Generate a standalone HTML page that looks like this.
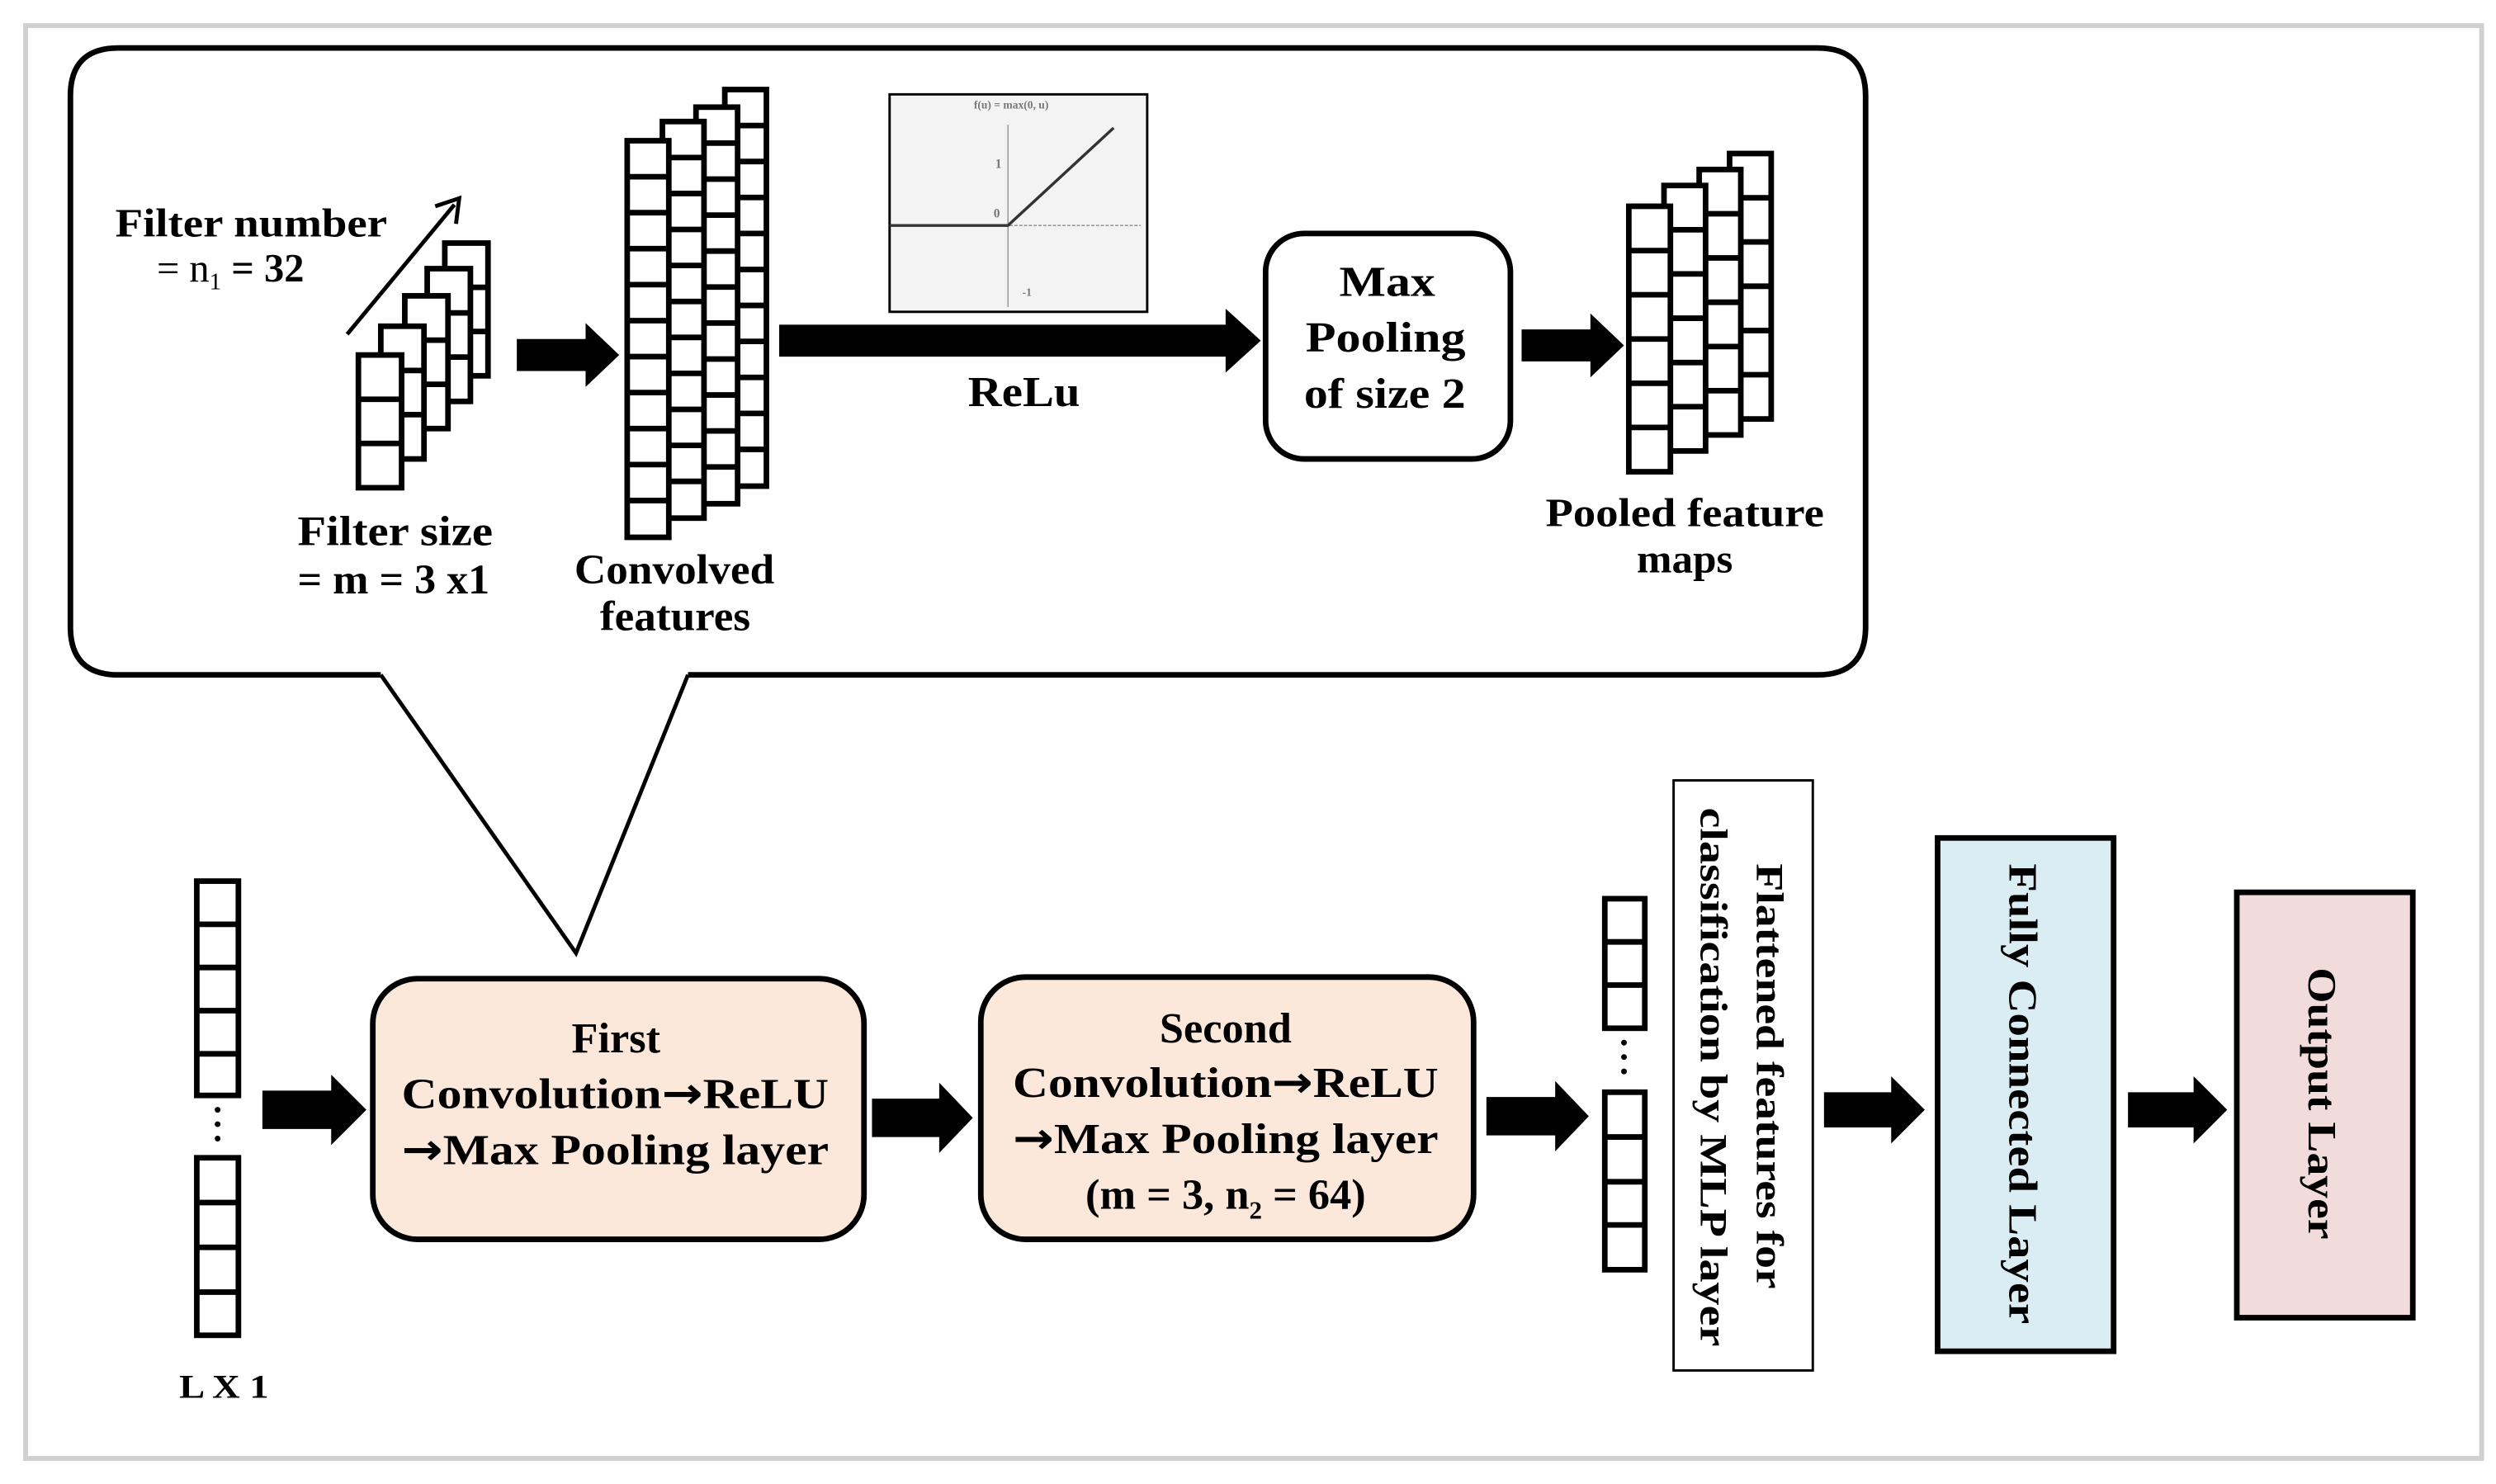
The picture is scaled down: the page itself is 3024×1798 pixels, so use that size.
<!DOCTYPE html>
<html><head><meta charset="utf-8"><style>
html,body{margin:0;padding:0;background:#fff;}
svg{display:block;}
text{font-family:"Liberation Serif",serif;font-weight:bold;fill:#000;}
.ar{font-family:"DejaVu Sans",sans-serif;font-weight:bold;}
</style></head><body>
<svg width="3024" height="1798" viewBox="0 0 1560 928" preserveAspectRatio="none" xmlns="http://www.w3.org/2000/svg">
<defs>
<g id="f3"><rect x="0" y="0" width="27" height="83" fill="#fff" stroke="#000" stroke-width="3.5"/><path d="M0 27.7H27M0 55.3H27" stroke="#000" stroke-width="3.5"/></g>
<g id="c11"><rect x="0" y="0" width="26" height="248" fill="#fff" stroke="#000" stroke-width="3.5"/><path d="M0 22.5H26M0 45H26M0 67.5H26M0 90H26M0 112.5H26M0 135H26M0 157.5H26M0 180H26M0 202.5H26M0 225H26" stroke="#000" stroke-width="3.5"/></g>
<g id="p6"><rect x="0" y="0" width="26" height="166" fill="#fff" stroke="#000" stroke-width="3.5"/><path d="M0 27.7H26M0 55.3H26M0 83H26M0 110.7H26M0 138.3H26" stroke="#000" stroke-width="3.5"/></g>
</defs>
<rect x="0" y="0" width="1560" height="928" fill="#fff"/>
<rect x="16" y="16" width="1535" height="896" fill="none" stroke="#cfcfcf" stroke-width="3"/>

<path d="M238,422 H74 Q44,422 44,392 V60 Q44,30 74,30 H1136 Q1166,30 1166,60 V392 Q1166,422 1136,422 H430" fill="none" stroke="#000" stroke-width="3.5"/>
<path d="M238,422 L360,596 L430,422" fill="none" stroke="#000" stroke-width="2.5"/>

<use href="#f3" x="278" y="152"/>
<use href="#f3" x="267" y="168"/>
<use href="#f3" x="253" y="185"/>
<use href="#f3" x="238" y="204"/>
<use href="#f3" x="224" y="222"/>
<line x1="217" y1="209" x2="284" y2="128" stroke="#000" stroke-width="2.5"/>
<path d="M272,129 L287,124 L285,140" fill="none" stroke="#000" stroke-width="2.5"/>
<text x="72" y="148" font-size="25" textLength="170" lengthAdjust="spacingAndGlyphs">Filter number</text>
<text x="98" y="176" font-size="25"><tspan font-weight="normal">= n</tspan><tspan font-size="15" font-weight="normal" dy="5">1</tspan><tspan dy="-5"> = 32</tspan></text>
<text x="186" y="341" font-size="26" textLength="122" lengthAdjust="spacingAndGlyphs">Filter size</text>
<text x="186" y="371" font-size="26" textLength="120" lengthAdjust="spacingAndGlyphs">= m = 3 x1</text>

<polygon points="323,212 366,212 366,202 387,222 366,242 366,232 323,232" fill="#000"/>

<use href="#c11" x="453" y="56"/>
<use href="#c11" x="435" y="67"/>
<use href="#c11" x="414" y="76"/>
<use href="#c11" x="392" y="88"/>
<text x="359" y="365" font-size="26" textLength="125" lengthAdjust="spacingAndGlyphs">Convolved</text>
<text x="375" y="394" font-size="26" textLength="94" lengthAdjust="spacingAndGlyphs">features</text>

<rect x="556" y="59" width="161" height="136" fill="#f3f3f3" stroke="#000" stroke-width="1.5"/>
<line x1="630" y1="78" x2="630" y2="192" stroke="#999" stroke-width="0.8"/>
<line x1="556" y1="141" x2="713" y2="141" stroke="#999" stroke-width="0.8" stroke-dasharray="2,1"/>
<polyline points="556,141 630,141 696,80" fill="none" stroke="#333" stroke-width="1.8"/>
<text x="632" y="68" font-size="7" font-weight="normal" text-anchor="middle" style="fill:#777">f(u) = max(0, u)</text>
<text x="622" y="105" font-size="8" font-weight="normal" style="fill:#777">1</text>
<text x="621" y="136" font-size="8" font-weight="normal" style="fill:#777">0</text>
<text x="639" y="185" font-size="7" font-weight="normal" style="fill:#777">-1</text>

<polygon points="487,203 766,203 766,193 788,213 766,233 766,223 487,223" fill="#000"/>
<text x="605" y="254" font-size="27" textLength="70" lengthAdjust="spacingAndGlyphs">ReLu</text>

<rect x="791" y="146" width="153" height="141" rx="24" fill="#fff" stroke="#000" stroke-width="3.5"/>
<text x="837" y="185" font-size="27" textLength="60" lengthAdjust="spacingAndGlyphs">Max</text>
<text x="816" y="220" font-size="27" textLength="100" lengthAdjust="spacingAndGlyphs">Pooling</text>
<text x="815" y="255" font-size="27" textLength="101" lengthAdjust="spacingAndGlyphs">of size 2</text>

<polygon points="951,206 994,206 994,196 1015,216 994,236 994,226 951,226" fill="#000"/>

<use href="#p6" x="1081" y="96"/>
<use href="#p6" x="1062" y="106"/>
<use href="#p6" x="1040" y="116"/>
<use href="#p6" x="1018" y="129"/>
<text x="966" y="329" font-size="25" textLength="174" lengthAdjust="spacingAndGlyphs">Pooled feature</text>
<text x="1023" y="358" font-size="25" textLength="60" lengthAdjust="spacingAndGlyphs">maps</text>

<rect x="123" y="551" width="26" height="134" fill="#fff" stroke="#000" stroke-width="3.5"/>
<path d="M123 578H149M123 605H149M123 632H149M123 659H149" stroke="#000" stroke-width="3.5"/>
<circle cx="136" cy="694" r="1.8"/><circle cx="136" cy="703" r="1.8"/><circle cx="136" cy="712" r="1.8"/>
<rect x="123" y="724" width="26" height="111" fill="#fff" stroke="#000" stroke-width="3.5"/>
<path d="M123 752H149M123 780H149M123 808H149" stroke="#000" stroke-width="3.5"/>
<text x="112" y="874" font-size="21" textLength="56" lengthAdjust="spacingAndGlyphs">L X 1</text>

<polygon points="164,682 207,682 207,672 229,694 207,716 207,706 164,706" fill="#000"/>

<rect x="233" y="612" width="307" height="163" rx="28" fill="#fce8da" stroke="#000" stroke-width="3.5"/>
<text x="385" y="658" font-size="27" text-anchor="middle">First</text>
<text x="251" y="693" font-size="27" textLength="267" lengthAdjust="spacingAndGlyphs">Convolution<tspan class="ar">→</tspan>ReLU</text>
<text x="251" y="728" font-size="27" textLength="267" lengthAdjust="spacingAndGlyphs"><tspan class="ar">→</tspan>Max Pooling layer</text>

<polygon points="545,687 587,687 587,677 608,699 587,721 587,711 545,711" fill="#000"/>

<rect x="613" y="611" width="308" height="164" rx="28" fill="#fce8da" stroke="#000" stroke-width="3.5"/>
<text x="766" y="652" font-size="27" text-anchor="middle">Second</text>
<text x="633" y="686" font-size="27" textLength="266" lengthAdjust="spacingAndGlyphs">Convolution<tspan class="ar">→</tspan>ReLU</text>
<text x="633" y="721" font-size="27" textLength="266" lengthAdjust="spacingAndGlyphs"><tspan class="ar">→</tspan>Max Pooling layer</text>
<text x="766" y="756" font-size="27" text-anchor="middle">(m = 3, n<tspan font-size="16" dy="6">2</tspan><tspan dy="-6"> = 64)</tspan></text>

<polygon points="929,686 972,686 972,676 993,698 972,720 972,710 929,710" fill="#000"/>

<rect x="1003" y="562" width="25" height="81" fill="#fff" stroke="#000" stroke-width="3.5"/>
<path d="M1003 589H1028M1003 616H1028" stroke="#000" stroke-width="3.5"/>
<circle cx="1015" cy="652" r="1.8"/><circle cx="1015" cy="661" r="1.8"/><circle cx="1015" cy="670" r="1.8"/>
<rect x="1003" y="683" width="25" height="111" fill="#fff" stroke="#000" stroke-width="3.5"/>
<path d="M1003 711H1028M1003 739H1028M1003 766H1028" stroke="#000" stroke-width="3.5"/>

<rect x="1046" y="488" width="87" height="369" fill="#fff" stroke="#000" stroke-width="1.5"/>
<text transform="translate(1098,540) rotate(90)" font-size="24" textLength="266" lengthAdjust="spacingAndGlyphs">Flattened features for</text>
<text transform="translate(1063,505) rotate(90)" font-size="24" textLength="337" lengthAdjust="spacingAndGlyphs">classification by MLP layer</text>

<polygon points="1140,683 1182,683 1182,673 1203,694 1182,715 1182,705 1140,705" fill="#000"/>

<rect x="1211" y="524" width="110" height="321" fill="#daedf3" stroke="#000" stroke-width="3.5"/>
<text transform="translate(1256,540) rotate(90)" font-size="25" textLength="288" lengthAdjust="spacingAndGlyphs">Fully Connected Layer</text>

<polygon points="1330,683 1371,683 1371,673 1392,694 1371,715 1371,705 1330,705" fill="#000"/>

<rect x="1398" y="558" width="110" height="266" fill="#f1dcdb" stroke="#000" stroke-width="3.5"/>
<text transform="translate(1443,605) rotate(90)" font-size="25" textLength="170" lengthAdjust="spacingAndGlyphs">Output Layer</text>
</svg>
</body></html>
